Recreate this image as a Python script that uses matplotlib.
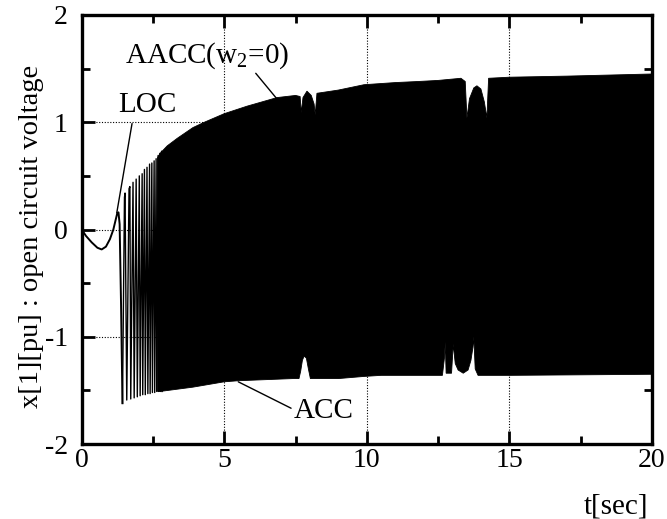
import numpy as np
import matplotlib
matplotlib.use("Agg")
import matplotlib.pyplot as plt

# ---- data ----
# initial transient (LOC)
transient_t = [0.0, 0.15, 0.35, 0.55, 0.70, 0.85, 0.99, 1.11, 1.20, 1.25, 1.29, 1.33, 1.38, 1.43]
transient_y = [0.0, -0.06, -0.12, -0.17, -0.186, -0.16, -0.09, 0.0, 0.10, 0.155, 0.16, 0.05, -0.70, -1.62]

# early, individually visible oscillation strokes (vertices: peak, trough, ...)
early_t = [1.43, 1.50, 1.52, 1.58, 1.66, 1.69, 1.72, 1.80, 1.84, 1.91, 1.95, 2.02, 2.05,
           2.12, 2.14, 2.20, 2.23, 2.29, 2.32, 2.38, 2.40, 2.46, 2.48, 2.54, 2.56,
           2.61, 2.63, 2.68, 2.70, 2.74, 2.76, 2.80, 2.82]
early_y = [-1.62, 0.30, 0.34, -1.59, 0.38, 0.40, -1.58, 0.44, -1.57, 0.47, -1.56, 0.50, -1.55,
           0.52, -1.54, 0.56, -1.54, 0.58, -1.53, 0.61, -1.53, 0.62, -1.52, 0.64, -1.52,
           0.66, -1.51, 0.69, -1.51, 0.71, -1.51, 0.73, -1.51]

# upper envelope of the dense oscillation
upper_t = [2.66, 2.75, 3.0, 3.35, 3.9, 4.3, 5.0, 5.8, 6.85, 7.5, 7.66, 7.70, 7.76, 7.9, 8.05,
           8.15, 8.19, 8.25, 9.0, 9.9, 11.0, 11.8, 12.5, 13.3, 13.45, 13.51, 13.6, 13.75,
           13.86, 14.0, 14.12, 14.21, 14.27, 15.0, 17.0, 20.0]
upper_y = [0.67, 0.71, 0.78, 0.85, 0.95, 1.00, 1.08, 1.15, 1.23, 1.25, 1.24, 1.09, 1.23, 1.29, 1.25,
           1.17, 1.07, 1.27, 1.30, 1.35, 1.37, 1.38, 1.39, 1.41, 1.38, 1.04, 1.22, 1.32,
           1.34, 1.31, 1.19, 1.04, 1.41, 1.42, 1.43, 1.45]

# lower envelope of the dense oscillation
lower_t = [2.66, 2.75, 3.9, 5.0, 5.5, 7.4, 7.62, 7.68, 7.74, 7.8, 7.88, 7.95, 8.02, 9.0, 9.9,
           10.5, 12.65, 12.72, 12.75, 12.78, 12.97, 13.03, 13.1, 13.2, 13.38, 13.55, 13.65,
           13.72, 13.75, 13.80, 13.9, 15.0, 20.0]
lower_y = [-1.51, -1.51, -1.47, -1.42, -1.41, -1.39, -1.39, -1.32, -1.22, -1.18, -1.20, -1.30, -1.39,
           -1.39, -1.37, -1.36, -1.36, -1.20, -1.05, -1.34, -1.34, -1.07, -1.25, -1.31, -1.34,
           -1.31, -1.22, -1.10, -1.00, -1.30, -1.36, -1.36, -1.35]

x_ticks = [0, 5, 10, 15, 20]
y_ticks = [-2, -1, 0, 1, 2]

# ---- style ----
SERIF = ['Liberation Serif', 'DejaVu Serif']
plt.rcParams['font.family'] = SERIF
plt.rcParams['axes.unicode_minus'] = False
plt.rcParams['mathtext.fontset'] = 'custom'
plt.rcParams['mathtext.rm'] = 'Liberation Serif'
plt.rcParams['mathtext.it'] = 'Liberation Serif'

fig = plt.figure(figsize=(6.67, 5.19), dpi=100)
ax = fig.add_axes([81.7 / 667, 75 / 519, (652 - 81.7) / 667, (444 - 15) / 519])

ax.set_xlim(0, 20)
ax.set_ylim(-2, 2)

# grid (dotted) behind data
for gx in [5, 10, 15]:
    ax.axvline(gx, color='black', lw=0.8, ls=(0, (1, 1.5)), zorder=0)
for gy in [-1, 0, 1]:
    ax.axhline(gy, color='black', lw=0.8, ls=(0, (1, 1.5)), zorder=0)

# dense oscillation drawn as filled envelope
poly_t = list(upper_t) + list(lower_t[::-1])
poly_y = list(upper_y) + list(lower_y[::-1])
ax.fill(poly_t, poly_y, color='black', lw=0.6, zorder=2)

ax.plot(transient_t, transient_y, color='black', lw=1.4, zorder=3)
ax.plot(early_t, early_y, color='black', lw=1.0, zorder=3)

# ticks
ax.set_xticks(x_ticks)
ax.set_yticks(y_ticks)
ax.set_xticklabels([str(v) for v in x_ticks], family=SERIF)
ax.set_yticklabels([str(v) for v in y_ticks], family=SERIF)
ax.set_xticks([2.5, 7.5, 12.5, 17.5], minor=True)
ax.set_yticks([-1.5, -0.5, 0.5, 1.5], minor=True)
ax.tick_params(which='both', direction='in', top=True, right=True, width=2.0, labelsize=20)
ax.tick_params(which='major', length=9.5)
ax.tick_params(which='minor', length=5.8)
ax.tick_params(axis='x', pad=3)
ax.tick_params(axis='y', pad=10)
for sp in ax.spines.values():
    sp.set_linewidth(2.4)

# annotations
fs = 21
ax.annotate('AACC(w$_2$=0)', xy=(6.84, 1.22), xytext=(4.41, 1.56),
            ha='center', va='baseline', fontsize=fs, family=SERIF,
            arrowprops=dict(arrowstyle='-', color='black', lw=1.0,
                            shrinkA=0, shrinkB=0, relpos=(0.78, 0.0)))
ax.annotate('LOC', xy=(1.23, 0.155), xytext=(2.31, 1.095),
            ha='center', va='baseline', fontsize=fs, family=SERIF,
            arrowprops=dict(arrowstyle='-', color='black', lw=1.0,
                            shrinkA=2, shrinkB=0, relpos=(0.25, 0.0)))
ax.annotate('ACC', xy=(5.49, -1.42), xytext=(8.5, -1.756),
            ha='center', va='baseline', fontsize=fs, family=SERIF,
            arrowprops=dict(arrowstyle='-', color='black', lw=1.0,
                            shrinkA=0, shrinkB=0, relpos=(-0.05, 0.6)))

fig.text(32 / 667, (519 - 236) / 519, 'x[1][pu] : open circuit voltage',
         rotation=90, ha='center', va='center', fontsize=20.5, family=SERIF)
fig.text(615.5 / 667, 5 / 519, 't[sec]', ha='center', va='baseline', fontsize=fs, family=SERIF)

fig.savefig('out.png', dpi=100)
